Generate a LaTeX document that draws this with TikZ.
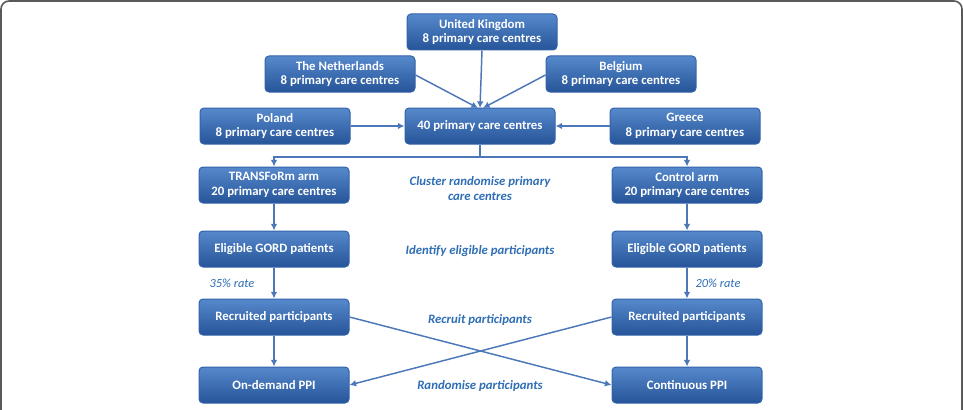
\documentclass[tikz,border=0pt]{standalone}
\usepackage{fontspec}
\setmainfont{Carlito}
\usetikzlibrary{arrows.meta}

\definecolor{boxtop}{RGB}{86,137,204}
\definecolor{boxbot}{RGB}{38,84,152}
\definecolor{boxedge}{RGB}{52,98,168}
\definecolor{linkcol}{RGB}{76,120,186}
\definecolor{stepcol}{RGB}{46,110,180}
\definecolor{framecol}{RGB}{90,90,90}

\tikzset{every picture/.style={line width=0.75pt}}
\tikzset{
  centrebox/.style={rounded corners=3pt, top color=boxtop, bottom color=boxbot, draw=boxedge,
    minimum width=112.5pt, minimum height=27pt, align=center, text=white, inner sep=0.75pt,
    font=\fontsize{9.6}{11.2}\selectfont\bfseries},
  link/.style={draw=linkcol, line width=1.1pt, -{Latex[length=5pt,width=5pt]}},
  stagelabel/.style={text=stepcol, align=center, inner sep=0.75pt,
    font=\fontsize{9.6}{11.2}\selectfont\bfseries\itshape},
  ratelabel/.style={text=stepcol, inner sep=0.75pt, font=\fontsize{9.3}{11}\selectfont\itshape}
}

\begin{document}
\begin{tikzpicture}[x=0.75pt,y=0.75pt,yscale=-1,xscale=1]
\useasboundingbox (0,0) rectangle (963,410);

%Frame
\draw [draw=framecol, line width=1.2pt, rounded corners=6pt] (1,420) -- (1,1) -- (962,1) -- (962,420) ;

%Countries
\node [centrebox] (uk) at (482,32) {United Kingdom\\8 primary care centres};
\node [centrebox] (nl) at (340,74) {The Netherlands\\8 primary care centres};
\node [centrebox] (be) at (621,74) {Belgium\\8 primary care centres};
\node [centrebox] (pl) at (275,126) {Poland\\8 primary care centres};
\node [centrebox] (all) at (480,126) {40 primary care centres};
\node [centrebox] (gr) at (685,126) {Greece\\8 primary care centres};

%Arms
\node [centrebox] (tarm) at (274,185) {TRANSFoRm arm\\20 primary care centres};
\node [centrebox] (carm) at (687,185) {Control arm\\20 primary care centres};
\node [centrebox] (telig) at (274,249) {Eligible GORD patients};
\node [centrebox] (celig) at (687,249) {Eligible GORD patients};
\node [centrebox] (trec) at (274,317) {Recruited participants};
\node [centrebox] (crec) at (687,317) {Recruited participants};
\node [centrebox] (tppi) at (274,385) {On-demand PPI};
\node [centrebox] (cppi) at (687,385) {Continuous PPI};

%Connectors into the pool
\coordinate (hub) at (480,108);
\draw [link] (uk.south) -- (hub);
\draw [link] (nl.east |- 0,75) -- (478,108);
\draw [link] (be.west |- 0,75) -- (483,108);
\draw [link] (pl) -- (all);
\draw [link] (gr) -- (all);

%Split into arms
\coordinate (split) at (480,157);
\draw [draw=linkcol, line width=1.1pt] (all.south) -- (split);
\draw [link] (split) -| (tarm.north);
\draw [link] (split) -| (carm.north);

%Columns
\draw [link] (tarm) -- (telig);
\draw [link] (carm) -- (celig);
\draw [link] (telig) -- (trec);
\draw [link] (celig) -- (crec);
\draw [link] (trec) -- (tppi);
\draw [link] (crec) -- (cppi);

%Cross randomisation
\draw [link] (trec.east) -- (cppi.west);
\draw [link] (crec.west) -- (tppi.east);

% Text Node
\node [ratelabel] (trate) at (232,283) {35\% rate};
\node [ratelabel] (crate) at (718,283) {20\% rate};
\node [stagelabel] (s1) at (480,189) {Cluster randomise primary\\care centres};
\node [stagelabel] (s2) at (480,251) {Identify eligible participants};
\node [stagelabel] (s3) at (480,320) {Recruit participants};
\node [stagelabel] (s4) at (480,386) {Randomise participants};

\end{tikzpicture}
\end{document}
